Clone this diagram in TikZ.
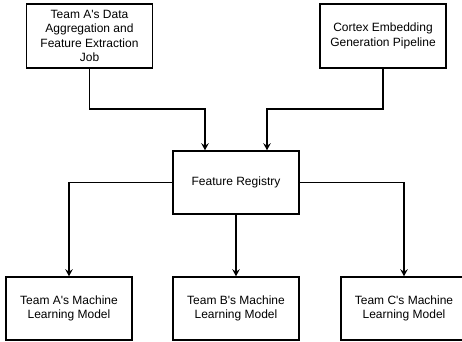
\documentclass[tikz,border=0pt]{standalone}
\usepackage{fontspec}
\setmainfont{Liberation Sans}[Ligatures=TeXOff]
\usetikzlibrary{arrows.meta}
\begin{document}
\begin{tikzpicture}[x=1pt,y=-1pt,
  box/.style={draw, line width=1.5pt, minimum width=126pt, minimum height=63pt, align=center, inner sep=0pt, font=\fontsize{12}{14.4}\selectfont},
  conn/.style={line width=1.5pt, -{Stealth[length=7pt,width=7.5pt,inset=2.5pt]}}]
\clip (0,0) rectangle (462,341);
\node[box, minimum height=64pt] (a) at (89.5,36) {Team A's Data\\Aggregation and\\Feature Extraction\\Job};
\node[box, minimum height=64pt] (c) at (383,36) {Cortex Embedding\\Generation Pipeline};
\node[box] (r) at (236,182.5) {Feature Registry};
\node[box] (ma) at (69,308.5) {Team A's Machine\\Learning Model};
\node[box] (mb) at (236,308.5) {Team B's Machine\\Learning Model};
\node[box] (mc) at (404,308.5) {Team C's Machine\\Learning Model};
\draw[conn] (a.south) -- ++(0,40) -| ([xshift=-31pt]r.north);
\draw[conn] (c.south) -- ++(0,40) -| ([xshift=31pt]r.north);
\draw[conn] (r.west) -| (ma.north);
\draw[conn] (r.south) -- (mb.north);
\draw[conn] (r.east) -| (mc.north);
\end{tikzpicture}
\end{document}
